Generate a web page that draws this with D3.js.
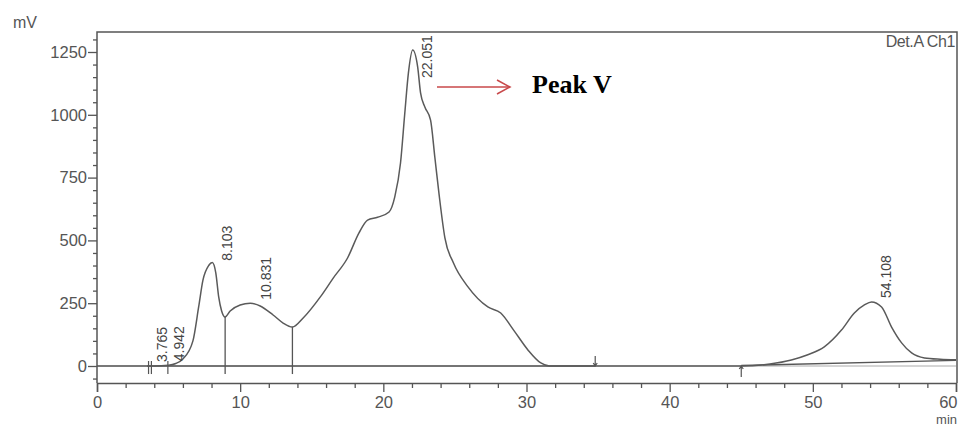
<!DOCTYPE html>
<html>

<head>
  <meta charset="utf-8">
  <title>Chromatogram</title>
  <script src="https://d3js.org/d3.v7.min.js"></script>
  <style>
    body { margin: 0; background: #fff; }
    text { font-family: "Liberation Sans", Arial, sans-serif; fill: #555; }
  </style>
</head>

<body>
  <script>
    var width = 959;
    var height = 427;

    // signal (min, mV)
    var times = [0, 3, 4, 5, 5.5, 6, 6.7, 7.1, 7.4, 7.8, 8.05, 8.3, 8.5, 8.7, 8.95, 9.3, 10, 10.7, 11.4, 12.3, 13, 13.65,
      14.4, 15.6, 16.5, 17.5, 18.3, 18.9, 19.6, 20.4, 20.8, 21.2, 21.5, 21.75, 22.05, 22.4, 22.6, 22.9, 23.3, 23.6, 23.9,
      24.3, 24.9, 25.9, 27.3, 28.2, 29.1, 30.1, 31, 31.6, 35, 45, 47, 48.5, 49.6, 50.8, 52, 52.9, 53.6, 54.1, 54.8, 55.5,
      56.2, 56.9, 57.8, 58.9, 60];
    var signal = [0, 0, 0, 3, 10, 28, 100, 235, 342, 400, 412, 370, 275, 220, 195, 219, 243, 250, 239, 203, 171, 155,
      191, 275, 350, 430, 530, 581, 592, 613, 673, 808, 1007, 1166, 1258, 1190, 1087, 1031, 979, 830, 680,
      510, 410, 316, 235, 211, 143, 64, 12, 0, 0, 0, 8, 24, 44, 76, 143, 211, 243, 255, 235, 155,
      92, 52, 32, 27, 25];

    var peakTimes = [3.765, 4.942, 8.103, 10.831, 22.051, 54.108];
    var peakLabels = ["3.765", "4.942", "8.103", "10.831", "22.051", "54.108"];
    var dropTimes = [8.95, 13.65];
    var startMarks = [3.6, 3.8, 4.95];
    var baseline1 = { t: [3.5, 34.8], v: [0, 0] };
    var baseline2 = { t: [45, 60], v: [2, 22] };

    var yMajor = [0, 250, 500, 750, 1000, 1250];
    var xMajor = [0, 10, 20, 30, 40, 50, 60];

    var mLeft = 97, mRight = 956, mTop = 32, mBottom = 383;

    var x = d3.scaleLinear().domain([0, 60]).range([mLeft, mRight]);
    var y = d3.scaleLinear().domain([0, 1250]).range([366, 52]);

    var svg = d3.select("body").append("svg").attr("width", width).attr("height", height);

    function valueAt(t) {
      var i = d3.bisectLeft(times, t);
      if (i <= 0) return signal[0];
      if (i >= times.length) return signal[signal.length - 1];
      var f = (t - times[i - 1]) / (times[i] - times[i - 1]);
      return signal[i - 1] + f * (signal[i] - signal[i - 1]);
    }

    // zero line
    svg.append("line")
      .attr("x1", mLeft).attr("x2", mRight)
      .attr("y1", y(0)).attr("y2", y(0))
      .attr("stroke", "#aaa").attr("stroke-width", 1);

    // integration baselines
    [baseline1, baseline2].forEach(function (b) {
      svg.append("line")
        .attr("x1", x(b.t[0])).attr("x2", x(b.t[1]))
        .attr("y1", y(b.v[0])).attr("y2", y(b.v[1]))
        .attr("stroke", "#555").attr("stroke-width", 1.3);
    });

    // trace
    var line = d3.line()
      .x(function (d, i) { return x(times[i]); })
      .y(function (d) { return y(d); })
      .curve(d3.curveMonotoneX);

    svg.append("path")
      .datum(signal)
      .attr("d", line)
      .attr("fill", "none")
      .attr("stroke", "#5a5a5a")
      .attr("stroke-width", 1.5);

    // drop lines between peaks
    svg.selectAll(".drop")
      .data(dropTimes)
      .enter()
      .append("line")
      .attr("class", "drop")
      .attr("x1", function (d) { return x(d); })
      .attr("x2", function (d) { return x(d); })
      .attr("y1", function (d) { return y(valueAt(d)); })
      .attr("y2", y(-32))
      .attr("stroke", "#555").attr("stroke-width", 1.3);

    svg.selectAll(".mark")
      .data(startMarks)
      .enter()
      .append("line")
      .attr("class", "mark")
      .attr("x1", function (d) { return x(d); })
      .attr("x2", function (d) { return x(d); })
      .attr("y1", y(20))
      .attr("y2", y(-32))
      .attr("stroke", "#555").attr("stroke-width", 1.2);

    // end / start arrows
    svg.append("path")
      .attr("d", "M" + x(34.8) + "," + (y(0) - 10) + "V" + y(0) + "M" + (x(34.8) - 2) + "," + (y(0) - 3) + "L" + x(34.8) + "," + y(0) + "L" + (x(34.8) + 2) + "," + (y(0) - 3))
      .attr("fill", "none").attr("stroke", "#555").attr("stroke-width", 1.2);
    svg.append("path")
      .attr("d", "M" + x(45) + "," + (y(0) + 11) + "V" + y(0) + "M" + (x(45) - 2) + "," + (y(0) + 3) + "L" + x(45) + "," + y(0) + "L" + (x(45) + 2) + "," + (y(0) + 3))
      .attr("fill", "none").attr("stroke", "#555").attr("stroke-width", 1.2);

    // peak labels
    svg.selectAll(".plabel")
      .data(peakTimes)
      .enter()
      .append("text")
      .attr("class", "plabel")
      .attr("transform", function (d, i) {
        var px = x(d) + (d < 6 ? 16 : 19);
        var py = Math.max(y(valueAt(d)) - 4, mTop + 46);
        return "translate(" + px + "," + py + ") rotate(-90)";
      })
      .attr("font-size", "14px")
      .style("fill", "#444")
      .text(function (d, i) { return peakLabels[i]; });

    // frame
    svg.append("path")
      .attr("d", "M" + mLeft + "," + mBottom + "V" + mTop + "H" + (mRight + 1) + "V" + mBottom)
      .attr("fill", "none").attr("stroke", "#555").attr("stroke-width", 1.5);

    // axes
    var yMinor = d3.range(-50, 1301, 50).filter(function (d) { return yMajor.indexOf(d) < 0; });
    svg.append("g").attr("transform", "translate(" + mLeft + ",0)")
      .call(d3.axisLeft(y).tickValues(yMinor).tickSize(4).tickFormat(""))
      .call(function (g) { g.select(".domain").remove(); });
    var gY = svg.append("g").attr("transform", "translate(" + mLeft + ",0)")
      .call(d3.axisLeft(y).tickValues(yMajor).tickSize(9).tickPadding(1).tickFormat(d3.format("d")));
    gY.select(".domain").remove();

    var xMinor = d3.range(2, 60, 2).filter(function (d) { return d % 10 !== 0; });
    svg.append("g").attr("transform", "translate(0," + mBottom + ")")
      .call(d3.axisBottom(x).tickValues(xMinor).tickSize(5).tickFormat(""))
      .call(function (g) { g.select(".domain").remove(); });
    var gX = svg.append("g").attr("transform", "translate(0," + mBottom + ")")
      .call(d3.axisBottom(x).tickValues(xMajor).tickSize(9).tickPadding(4).tickFormat(d3.format("d")));
    gX.select(".domain").attr("stroke-width", 1.5);
    gX.selectAll(".tick text").filter(function (d) { return d === 60; })
      .attr("text-anchor", "end").attr("dx", "1px");

    svg.selectAll(".tick line").attr("stroke", "#555").attr("stroke-width", 1.3);
    svg.selectAll(".domain").attr("stroke", "#555");
    svg.selectAll(".tick text").attr("fill", "#555").attr("font-size", "16.5px")
      .attr("font-family", "'Liberation Sans', Arial, sans-serif");

    // units and detector
    svg.append("text").attr("x", 13).attr("y", 28).attr("font-size", "16px").text("mV");
    svg.append("text").attr("x", 957).attr("y", 424).attr("text-anchor", "end").attr("font-size", "13px").text("min");
    svg.append("text").attr("x", 955).attr("y", 47).attr("text-anchor", "end").attr("font-size", "16px")
      .attr("letter-spacing", "-0.4px").text("Det.A Ch1");

    // annotation
    svg.append("line")
      .attr("x1", 437).attr("x2", 509).attr("y1", 87).attr("y2", 87)
      .attr("stroke", "#c8484a").attr("stroke-width", 1.5);
    svg.append("path")
      .attr("d", "M497,80L510,87L497,94")
      .attr("fill", "none").attr("stroke", "#c8484a").attr("stroke-width", 1.5);
    svg.append("text").attr("x", 532).attr("y", 93)
      .style("font-family", "'Liberation Serif', 'Times New Roman', serif")
      .style("fill", "#000").style("font-weight", "bold").style("font-size", "26px")
      .text("Peak V");
  </script>
</body>

</html>
